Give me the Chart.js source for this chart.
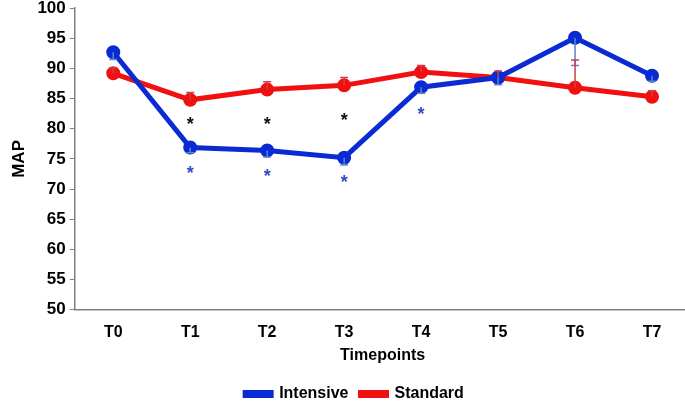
<!DOCTYPE html>
<html lang="en">
<head>
  <title>MAP Timepoints</title>
  <script src="https://cdn.jsdelivr.net/npm/chart.js@4.4.0/dist/chart.umd.min.js"></script>
  <style>
    html, body { margin: 0; padding: 0; background: #fff; overflow: hidden; }
    #wrap { width: 700px; height: 418px; margin-top: -6px; }
  </style>
</head>
<body>
  <div id="wrap"><canvas id="mapChart"></canvas></div>
  <script>
    // data
    const timepoints = ['T0', 'T1', 'T2', 'T3', 'T4', 'T5', 'T6', 'T7'];
    const intensive = [92.7, 76.9, 76.4, 75.2, 86.9, 88.5, 95.1, 88.8];
    const intensiveErrEnd = [91.5, 76.0, 75.3, 74.0, 85.9, 87.3, 90.5, 87.9];
    const standard = [89.2, 84.8, 86.5, 87.2, 89.4, 88.5, 86.8, 85.3];
    const standardErrEnd = [90.1, 86.0, 87.8, 88.5, 90.5, 89.6, 91.4, 86.3];
    const blackStars = [null, 81.3, 81.3, 81.9, null, null, null, null];
    const blueStars = [null, 73.2, 72.6, 71.6, 82.9, null, null, null];

    const BLUE = '#0a2bd4';
    const RED = '#f01010';
    const FONT = "'Liberation Sans', Arial, sans-serif";

    // error bars + asterisks, positioned through the chart scales
    const extras = {
      id: 'extras',
      afterDatasetsDraw(chart) {
        const ctx = chart.ctx, x = chart.scales.x, y = chart.scales.y;
        const bars = [
          { vals: intensive, ends: intensiveErrEnd, color: '#5a86cc' },
          { vals: standard, ends: standardErrEnd, color: '#c8404a' }
        ];
        ctx.save();
        ctx.lineWidth = 1.5;
        bars.forEach(b => {
          ctx.strokeStyle = b.color;
          b.vals.forEach((v, i) => {
            const px = x.getPixelForValue(i);
            const y0 = y.getPixelForValue(v), y1 = y.getPixelForValue(b.ends[i]);
            ctx.beginPath();
            ctx.moveTo(px, y0); ctx.lineTo(px, y1);
            ctx.moveTo(px - 4, y1); ctx.lineTo(px + 4, y1);
            ctx.stroke();
          });
        });

        ctx.font = 'bold 18px ' + FONT;
        ctx.textAlign = 'center';
        ctx.textBaseline = 'middle';
        [[blackStars, '#111'], [blueStars, '#2a4fc0']].forEach(([arr, c]) => {
          ctx.fillStyle = c;
          arr.forEach((v, i) => {
            if (v === null) return;
            ctx.fillText('*', x.getPixelForValue(i), y.getPixelForValue(v) + 4);
          });
        });
        ctx.restore();
      }
    };

    new Chart(document.getElementById('mapChart'), {
      type: 'line',
      data: {
        labels: timepoints,
        datasets: [{
          label: 'Intensive',
          data: intensive,
          borderColor: BLUE,
          backgroundColor: BLUE,
          borderWidth: 5,
          pointRadius: 4.5,
          pointHoverRadius: 4.5,
          tension: 0
        }, {
          label: 'Standard',
          data: standard,
          borderColor: RED,
          backgroundColor: RED,
          borderWidth: 5,
          pointRadius: 4.5,
          pointHoverRadius: 4.5,
          tension: 0
        }]
      },
      options: {
        responsive: true,
        maintainAspectRatio: false,
        animation: false,
        layout: { padding: { top: 0, right: 0, left: 9, bottom: 0 } },
        plugins: {
          tooltip: { enabled: false },
          legend: {
            position: 'bottom',
            padding: { top: 4, bottom: 0, left: 0, right: 0 },
            labels: {
              color: '#000',
              font: { family: FONT, size: 16, weight: 'bold' },
              boxWidth: 26,
              boxHeight: 3,
              padding: 12
            }
          }
        },
        scales: {
          x: {
            offset: true,
            border: { display: true, color: '#808080', width: 1.5 },
            grid: { display: false },
            ticks: { color: '#000', font: { family: FONT, size: 16, weight: 'bold' }, padding: 5 },
            title: {
              display: true, text: 'Timepoints', color: '#000',
              font: { family: FONT, size: 16, weight: 'bold' }, padding: { top: -1, bottom: 9 }
            }
          },
          y: {
            min: 50,
            max: 100,
            border: { display: true, color: '#808080', width: 1.5 },
            grid: { display: true, drawOnChartArea: false, drawTicks: true, tickLength: 5, color: '#808080' },
            ticks: { stepSize: 5, color: '#000', font: { family: FONT, size: 17, weight: 'bold' }, padding: 4 },
            title: {
              display: true, text: 'MAP', color: '#000',
              font: { family: FONT, size: 17, weight: 'bold' }, padding: { top: 0, bottom: 4 }
            }
          }
        }
      },
      plugins: [extras]
    });
  </script>
</body>
</html>
